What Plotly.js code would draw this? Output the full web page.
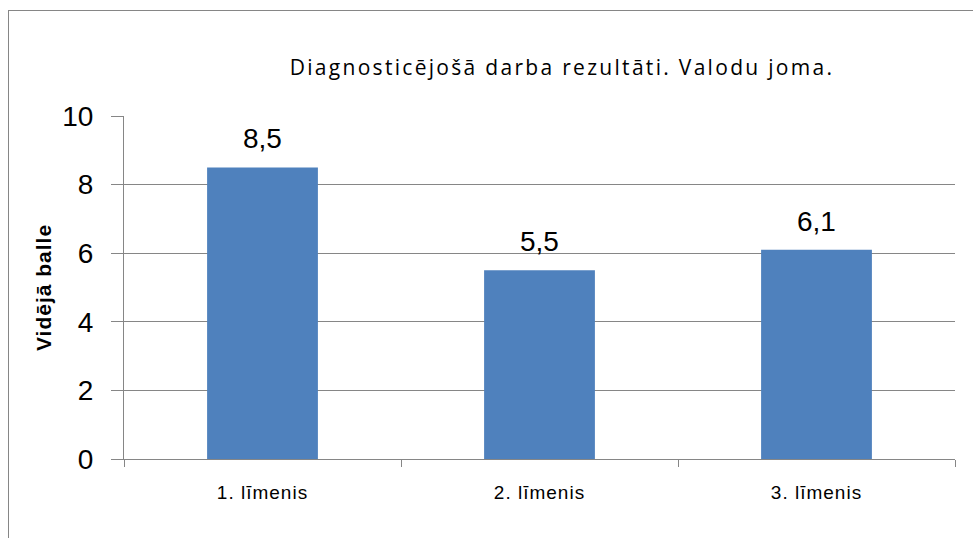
<!DOCTYPE html>
<html>
<head>
<meta charset="utf-8">
<script src="https://cdn.plot.ly/plotly-3.0.1.min.js"></script>
<style>
  html, body { margin: 0; padding: 0; background: #fff; }
  #wrap { position: relative; width: 973px; height: 538px; overflow: hidden; }
  #frame { position: absolute; left: 8px; top: 10px; width: 1000px; height: 600px; border-left: 1.5px solid #868686; border-top: 1.5px solid #868686; box-sizing: border-box; pointer-events: none; }
  #chart { position: absolute; left: 0; top: 0; width: 973px; height: 538px; }
  #chart .gtitle { letter-spacing: 2.3px; }
  #chart .xtick text { letter-spacing: 1px; }
  #chart .ytitle { letter-spacing: 1px; }
</style>
</head>
<body>
<div id="wrap">
  <div id="chart"></div>
  <div id="frame"></div>
</div>
<script>
const categories = ["1. līmenis", "2. līmenis", "3. līmenis"];
const values = [8.5, 5.5, 6.1];
const yTicks = [0, 2, 4, 6, 8, 10];
const chartTitle = "Diagnosticējošā darba rezultāti. Valodu joma.";
const yTitle = "Vidējā balle";

const FONT = "Liberation Sans, Arial, sans-serif";
const TITLE_FONT = "Open Sans, Liberation Sans, sans-serif";

const trace = {
  type: "bar",
  x: categories,
  y: values,
  marker: { color: "#4F81BD", line: { width: 0 } },
  width: 0.4,
  hoverinfo: "x+y"
};

const annotations = categories.map((c, i) => ({
  x: c,
  y: values[i],
  xref: "x",
  yref: "y",
  text: String(values[i]).replace(".", ","),
  showarrow: false,
  yanchor: "bottom",
  yshift: 11,
  font: { family: FONT, size: 28, color: "#000" }
}));

const layout = {
  width: 973,
  height: 538,
  margin: { l: 124, r: 18, t: 116, b: 79, pad: 0 },
  paper_bgcolor: "#fff",
  plot_bgcolor: "#fff",
  showlegend: false,
  separators: ", ",
  title: {
    text: chartTitle,
    x: 562 / 973,
    xref: "container",
    xanchor: "center",
    y: 1 - 68 / 538,
    yref: "container",
    yanchor: "middle",
    font: { family: TITLE_FONT, size: 21, color: "#000" }
  },
  xaxis: {
    type: "category",
    showgrid: false,
    showline: true,
    linecolor: "#868686",
    linewidth: 1,
    ticks: "outside",
    tickson: "boundaries",
    ticklen: 7,
    tickcolor: "#868686",
    tickwidth: 1,
    tickfont: { family: FONT, size: 19, color: "#000" },
    ticklabelstandoff: 16,
    zeroline: false
  },
  yaxis: {
    range: [0, 10],
    tickvals: yTicks,
    ticktext: yTicks.map(String),
    showgrid: true,
    gridcolor: "#868686",
    gridwidth: 1,
    showline: true,
    linecolor: "#868686",
    linewidth: 1,
    ticks: "outside",
    ticklen: 12,
    tickcolor: "#868686",
    tickwidth: 1,
    tickfont: { family: FONT, size: 28, color: "#000" },
    ticklabelstandoff: 12,
    zeroline: false,
    automargin: false,
    title: {
      text: yTitle,
      font: { family: FONT, size: 21, color: "#000", weight: "bold" },
      standoff: 4
    }
  },
  annotations: annotations
};

Plotly.newPlot("chart", [trace], layout, { displayModeBar: false, staticPlot: true });
</script>
</body>
</html>
